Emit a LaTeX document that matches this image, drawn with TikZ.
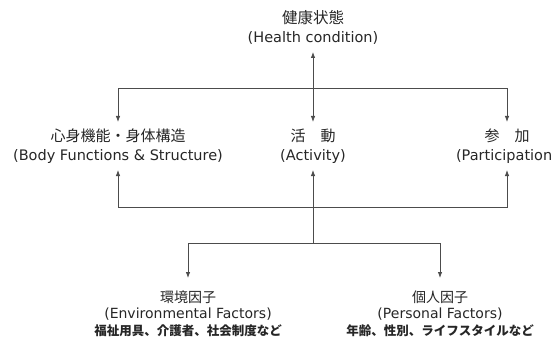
\documentclass[tikz,border=0pt]{standalone}
\usepackage{fontspec}
\setmainfont{DejaVu Sans}
\newfontfamily\jp{Noto Sans CJK JP}
\usetikzlibrary{arrows.meta}
\begin{document}
\begin{tikzpicture}[x=1pt,y=-1pt,
  lbl/.style={align=center, inner sep=0pt, outer sep=0pt, text=black!85,
    font=\fontsize{14.5}{19}\selectfont},
  lbl3/.style={lbl, font=\fontsize{14}{16.5}\selectfont, minimum height=71pt},
  smalljp/.style={},
  conn/.style={draw=black!70, line width=0.8pt},
  tip/.style={-{Latex[length=6pt,width=4.5pt]}},
  tips/.style={{Latex[length=6pt,width=4.5pt]}-{Latex[length=6pt,width=4.5pt]}}]
\useasboundingbox (0,0) rectangle (553,339);
\node[lbl, minimum height=49pt] (health) at (313,27.5) {{\jp\fontsize{15.5}{19}\selectfont 健康状態}\\(Health condition)};
\node[lbl, minimum height=48pt] (bfs) at (118,146) {{\jp\fontsize{15}{19}\selectfont 心身機能・身体構造}\\(Body Functions \& Structure)};
\node[lbl, minimum height=48pt] (activity) at (313,146) {{\jp\fontsize{15}{19}\selectfont 活　動}\\(Activity)};
\node[lbl, minimum height=48pt] (part) at (507,146) {{\jp\fontsize{15}{19}\selectfont 参　加}\\(Participation)};
\node[lbl3] (env) at (188,313.5) {{\jp 環境因子}\\(Environmental Factors)\\{\jp\bfseries\fontsize{12.5}{16.5}\selectfont 福祉用具、介護者、社会制度など}};
\node[lbl3] (pers) at (440,313.5) {{\jp 個人因子}\\(Personal Factors)\\{\jp\bfseries\fontsize{12.5}{16.5}\selectfont 年齢、性別、ライフスタイルなど}};
\coordinate (jt) at (313,88);
\coordinate (jb) at (313,207);
\coordinate (jl) at (313,243);
\draw[conn,tips] (health) -- (activity);
\draw[conn,tip] (jt) -| (bfs.north);
\draw[conn,tip] (jt) -| (part.north);
\draw[conn,tip] (jb) -| (bfs.south);
\draw[conn,tip] (jb) -| (part.south);
\draw[conn,tip] (jl) -- (activity.south);
\draw[conn,tip] (jl) -| (env.north);
\draw[conn,tip] (jl) -| (pers.north);
\end{tikzpicture}
\end{document}
